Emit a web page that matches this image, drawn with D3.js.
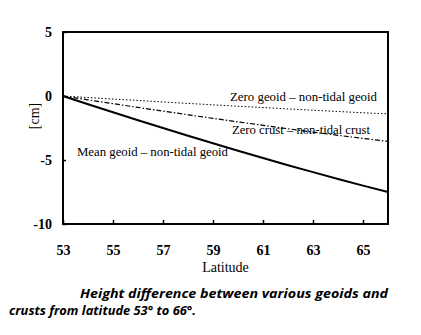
<!DOCTYPE html>
<html>
<head>
<meta charset="utf-8">
<script src="https://cdn.jsdelivr.net/npm/d3@7"></script>
<style>
  html, body { margin: 0; padding: 0; background: #fff; }
  svg { display: block; }
</style>
</head>
<body>
<svg id="chart" width="421" height="335"></svg>
<script>
// Latitudes (degrees) at which the height differences are given
const latitudes = [53, 54, 55, 56, 57, 58, 59, 60, 61, 62, 63, 64, 65, 66];

// Height differences in cm, relative to latitude 53°
const meanGeoid = [0, -0.64, -1.27, -1.89, -2.50, -3.11, -3.69, -4.28, -4.85, -5.41, -5.95, -6.48, -7.00, -7.50];
const zeroCrust = [0, -0.30, -0.60, -0.89, -1.18, -1.47, -1.75, -2.02, -2.29, -2.56, -2.82, -3.07, -3.31, -3.55];
const zeroGeoid = [0, -0.12, -0.24, -0.35, -0.47, -0.58, -0.69, -0.80, -0.90, -1.01, -1.11, -1.21, -1.31, -1.40];

const xTicks = [53, 55, 57, 59, 61, 63, 65];
const yTicks = [5, 0, -5, -10];

const seriesNames = [
  "Zero geoid \u2013 non-tidal geoid",
  "Zero crust \u2013 non-tidal crust",
  "Mean geoid \u2013 non-tidal geoid"
];
const captionLines = [
  "Height difference between various geoids and",
  "crusts from latitude 53\u00b0 to 66\u00b0."
];

const svg = d3.select("#chart");
const plotLeft = 63, plotRight = 388, plotTop = 32, plotBottom = 224;

const x = d3.scaleLinear().domain([53, 66]).range([plotLeft, plotRight]);
const y = d3.scaleLinear().domain([-10, 5]).range([plotBottom, plotTop]);

const serif = "'Liberation Serif', 'DejaVu Serif', serif";

// Plot frame
svg.append("rect")
  .attr("x", plotLeft).attr("y", plotTop)
  .attr("width", plotRight - plotLeft).attr("height", plotBottom - plotTop)
  .attr("fill", "none").attr("stroke", "#000").attr("stroke-width", 2);

// Bottom axis: ticks point into the plot
const xAxis = svg.append("g")
  .attr("transform", `translate(0,${plotBottom})`)
  .call(d3.axisBottom(x).tickValues(xTicks).tickSizeInner(-4).tickSizeOuter(0).tickPadding(21));
xAxis.select(".domain").remove();
xAxis.selectAll("line").attr("stroke-width", 1.5);
xAxis.selectAll("text")
  .attr("font-family", serif).attr("font-size", 14).attr("font-weight", "bold")
  .attr("fill", "#000");

// Left axis: ticks point into the plot, plain hyphen for negatives
const yAxis = svg.append("g")
  .attr("transform", `translate(${plotLeft},0)`)
  .call(d3.axisLeft(y).tickValues(yTicks).tickFormat(d => String(d))
    .tickSizeInner(-3).tickSizeOuter(0).tickPadding(11));
yAxis.select(".domain").remove();
yAxis.selectAll("line").attr("stroke-width", 1.5);
yAxis.selectAll("text")
  .attr("font-family", serif).attr("font-size", 14).attr("font-weight", "bold")
  .attr("fill", "#000");

// Axis titles
svg.append("text")
  .attr("x", (plotLeft + plotRight) / 2).attr("y", 272)
  .attr("text-anchor", "middle")
  .attr("font-family", serif).attr("font-size", 14)
  .attr("fill", "#000")
  .text("Latitude");

svg.append("text")
  .attr("transform", "translate(39,116) rotate(-90)")
  .attr("text-anchor", "middle")
  .attr("font-family", serif).attr("font-size", 14)
  .attr("fill", "#000")
  .text("[cm]");

// Curves
const line = d3.line().x((d, i) => x(latitudes[i])).y(d => y(d));

svg.append("path").datum(zeroGeoid)
  .attr("d", line).attr("fill", "none")
  .attr("stroke", "#000").attr("stroke-width", 1)
  .attr("stroke-dasharray", "1.5,2");

svg.append("path").datum(zeroCrust)
  .attr("d", line).attr("fill", "none")
  .attr("stroke", "#000").attr("stroke-width", 1.2)
  .attr("stroke-dasharray", "5,2,1.5,2");

svg.append("path").datum(meanGeoid)
  .attr("d", line).attr("fill", "none")
  .attr("stroke", "#000").attr("stroke-width", 2);

// Curve labels
const labels = [
  { text: seriesNames[0], x: 230, y: 101, w: 147 },
  { text: seriesNames[1], x: 232, y: 134, w: 138 },
  { text: seriesNames[2], x: 77, y: 156, w: 151 }
];
svg.selectAll("text.curve-label").data(labels).enter().append("text")
  .attr("class", "curve-label")
  .attr("x", d => d.x).attr("y", d => d.y)
  .attr("textLength", d => d.w).attr("lengthAdjust", "spacingAndGlyphs")
  .attr("font-family", serif).attr("font-size", 12)
  .attr("fill", "#000")
  .text(d => d.text);

// Caption
const sans = "'Open Sans', 'DejaVu Sans', sans-serif";
svg.append("text")
  .attr("x", 80).attr("y", 298)
  .attr("textLength", 308).attr("lengthAdjust", "spacingAndGlyphs")
  .attr("font-family", sans).attr("font-size", 13)
  .attr("font-style", "italic").attr("font-weight", "bold")
  .attr("fill", "#000")
  .text(captionLines[0]);
svg.append("text")
  .attr("x", 9).attr("y", 315)
  .attr("textLength", 187).attr("lengthAdjust", "spacingAndGlyphs")
  .attr("font-family", sans).attr("font-size", 13)
  .attr("font-style", "italic").attr("font-weight", "bold")
  .attr("fill", "#000")
  .text(captionLines[1]);
</script>
</body>
</html>
